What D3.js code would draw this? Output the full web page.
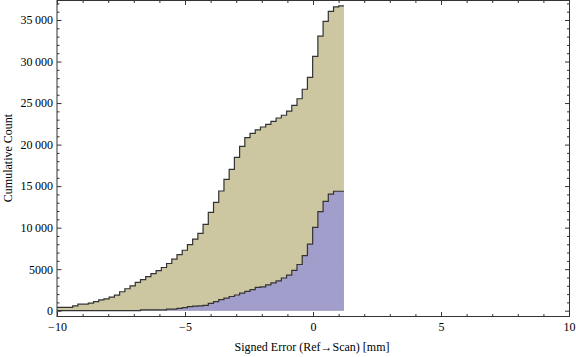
<!DOCTYPE html>
<html>
<head>
<meta charset="utf-8">
<script src="https://cdn.jsdelivr.net/npm/d3@7"></script>
<style>
  html, body { margin: 0; padding: 0; background: #fff; }
  svg { display: block; }
  .tick text { font-family: "Liberation Serif", "Times New Roman", serif; font-size: 12px; fill: #000; }
  .tick line { stroke: #333; stroke-width: 1; }
  .domain { display: none; }
</style>
</head>
<body>
<svg id="chart" width="576" height="357"></svg>
<script>
// ---- data ----
const binStart = -10;           // left edge of first bin
const binWidth = 0.2038;        // bin width (Signed Error units)
const allErrorsCumulative = [
  400, 400, 400, 580, 780, 780, 920, 1090, 1300, 1430,
  1640, 1880, 2280, 2640, 3000, 3400, 3730, 4100, 4460, 4820,
  5200, 5680, 6200, 6740, 7280, 7950, 8620, 9320, 10400, 11850,
  13050, 14410, 15820, 17020, 18470, 19790, 20830, 21360, 21760, 22120,
  22440, 22800, 23200, 23530, 24040, 24730, 25520, 26660, 28100, 30630,
  33070, 34840, 36050, 36570, 36690
];
const subsetCumulative = [
  0, 0, 0, 0, 0, 0, 0, 0, 0, 0,
  0, 0, 0, 0, 0, 0, 100, 100, 100, 100,
  100, 200, 200, 280, 370, 480, 560, 580, 640, 880,
  1090, 1340, 1520, 1710, 1890, 2110, 2330, 2530, 2800, 2880,
  3100, 3360, 3580, 3940, 4280, 4860, 5560, 6620, 8010, 10040,
  11940, 13160, 14030, 14380, 14380
];
const xMajorTicks = [-10, -5, 0, 5, 10];
const xMajorLabels = ["\u221210", "\u22125", "0", "5", "10"];
const xMinorTicks = [-9, -8, -7, -6, -4, -3, -2, -1, 1, 2, 3, 4, 6, 7, 8, 9];
const yMajorTicks = [0, 5000, 10000, 15000, 20000, 25000, 30000, 35000];
const yMajorLabels = ["0", "5000", "10\u2009000", "15\u2009000", "20\u2009000", "25\u2009000", "30\u2009000", "35\u2009000"];
const yMinorTicks = [1000, 2000, 3000, 4000, 6000, 7000, 8000, 9000, 11000, 12000, 13000, 14000,
  16000, 17000, 18000, 19000, 21000, 22000, 23000, 24000, 26000, 27000, 28000, 29000,
  31000, 32000, 33000, 34000, 36000, 37000];
const xTitle = "Signed Error (Ref\u2192Scan) [mm]";
const yTitle = "Cumulative Count";

// ---- layout ----
const frame = { left: 57, right: 569.5, top: 0.5, bottom: 316.5 };
const svg = d3.select("#chart");

const x = d3.scaleLinear().domain([-10, 10]).range([57, 569]);
const y = d3.scaleLinear().domain([0, 37000]).range([310.7, 310.7 - 37000 / 120.4]);

function stepPoints(vals) {
  const pts = vals.map((v, i) => [binStart + i * binWidth, v]);
  pts.push([binStart + vals.length * binWidth, vals[vals.length - 1]]);
  return pts;
}

const area = d3.area().curve(d3.curveStepAfter)
  .x(d => x(d[0])).y0(y(0)).y1(d => y(d[1]));
const line = d3.line().curve(d3.curveStepAfter)
  .x(d => x(d[0])).y(d => y(d[1]));

const series = [
  { vals: allErrorsCumulative, fill: "#ccc7a1" },
  { vals: subsetCumulative, fill: "#a19ecc" }
];
series.forEach(s => {
  const pts = stepPoints(s.vals);
  svg.append("path").attr("d", area(pts)).attr("fill", s.fill).attr("stroke", "none");
  svg.append("path").attr("d", line(pts)).attr("fill", "none")
    .attr("stroke", "#333").attr("stroke-width", 1.2);
});

// ---- frame ----
svg.append("rect")
  .attr("x", frame.left).attr("y", frame.top)
  .attr("width", frame.right - frame.left).attr("height", frame.bottom - frame.top)
  .attr("fill", "none").attr("stroke", "#333").attr("stroke-width", 1);

// ---- axes ----
const fmtX = d => xMajorLabels[xMajorTicks.indexOf(d)];
const fmtY = d => yMajorLabels[yMajorTicks.indexOf(d)];

svg.append("g").attr("transform", `translate(0,${frame.bottom})`)
  .call(d3.axisBottom(x).tickValues(xMajorTicks).tickSize(-4.5).tickPadding(6).tickFormat(fmtX));
svg.append("g").attr("transform", `translate(0,${frame.bottom})`)
  .call(d3.axisBottom(x).tickValues(xMinorTicks).tickSize(-2.5).tickFormat(""));
svg.append("g").attr("transform", `translate(0,${frame.top})`)
  .call(d3.axisTop(x).tickValues(xMajorTicks).tickSize(-4.5).tickFormat(""));
svg.append("g").attr("transform", `translate(0,${frame.top})`)
  .call(d3.axisTop(x).tickValues(xMinorTicks).tickSize(-2.5).tickFormat(""));

svg.append("g").attr("transform", `translate(${frame.left},0)`)
  .call(d3.axisLeft(y).tickValues(yMajorTicks).tickSize(-4.5).tickPadding(4).tickFormat(fmtY));
svg.append("g").attr("transform", `translate(${frame.left},0)`)
  .call(d3.axisLeft(y).tickValues(yMinorTicks).tickSize(-2.5).tickFormat(""));
svg.append("g").attr("transform", `translate(${frame.right},0)`)
  .call(d3.axisRight(y).tickValues(yMajorTicks).tickSize(-4.5).tickFormat(""));
svg.append("g").attr("transform", `translate(${frame.right},0)`)
  .call(d3.axisRight(y).tickValues(yMinorTicks).tickSize(-2.5).tickFormat(""));

svg.selectAll(".tick text").attr("font-family", null).attr("font-size", null);

// ---- titles ----
svg.append("text")
  .attr("x", 312).attr("y", 351)
  .attr("text-anchor", "middle")
  .style("font-family", '"Liberation Serif", "Times New Roman", serif')
  .style("font-size", "12px").attr("fill", "#000")
  .text(xTitle);
svg.append("text")
  .attr("transform", "translate(12,158) rotate(-90)")
  .attr("text-anchor", "middle")
  .style("font-family", '"Liberation Serif", "Times New Roman", serif')
  .style("font-size", "12px").attr("fill", "#000")
  .text(yTitle);
</script>
</body>
</html>
